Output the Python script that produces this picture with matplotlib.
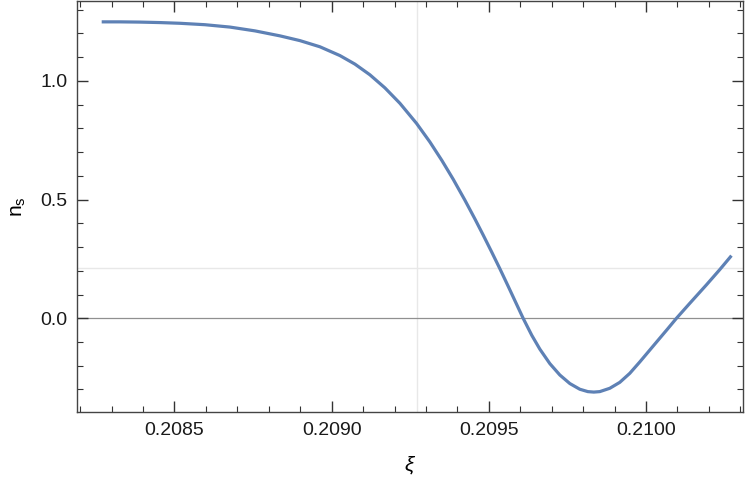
import matplotlib
matplotlib.use("Agg")
import matplotlib.pyplot as plt
import numpy as np
from matplotlib.ticker import MultipleLocator, FormatStrFormatter

plt.rcParams['font.family'] = ['Liberation Sans', 'DejaVu Sans']
plt.rcParams['mathtext.fontset'] = 'custom'
plt.rcParams['mathtext.rm'] = 'Liberation Sans'
plt.rcParams['mathtext.it'] = 'Liberation Sans:italic'

# curve
xi = [0.2082685, 0.2083267, 0.2083903, 0.2084539, 0.2085175, 0.2085970,
      0.2086765, 0.2087560, 0.2088355, 0.2088990, 0.2089626, 0.2090262,
      0.2090740, 0.2091216, 0.2091693, 0.2092170, 0.2092701, 0.2093124,
      0.2093506, 0.2093865, 0.2094237, 0.2094555, 0.2094819, 0.2095095,
      0.2095350, 0.2095604, 0.2095858, 0.2096091, 0.2096367, 0.2096622,
      0.2096940, 0.2097258, 0.2097576, 0.2097893, 0.2098148, 0.2098339,
      0.2098530, 0.2098847, 0.2099165, 0.2099483, 0.2099801, 0.2100119,
      0.2100437, 0.2100692, 0.2100968, 0.2101391, 0.2101922, 0.2102345,
      0.2102717]
n_s = [1.249, 1.249, 1.248, 1.246, 1.243, 1.237,
       1.227, 1.211, 1.190, 1.170, 1.144, 1.107,
       1.071, 1.026, 0.971, 0.906, 0.821, 0.743,
       0.665, 0.586, 0.498, 0.419, 0.351, 0.278,
       0.209, 0.138, 0.066, 0.000, -0.072, -0.130,
       -0.191, -0.239, -0.275, -0.299, -0.309, -0.311,
       -0.309, -0.295, -0.270, -0.232, -0.184, -0.134,
       -0.084, -0.044, 0.000, 0.063, 0.141, 0.205,
       0.264]

grid_x = 0.20927
grid_y = 0.21

fig = plt.figure(figsize=(7.47, 4.88), dpi=100)
ax = fig.add_axes([0.1031, 0.1557, 0.8922, 0.8423])

ax.axvline(grid_x, color='#e8e8e8', lw=1.0, zorder=1)
ax.axhline(grid_y, color='#e8e8e8', lw=1.0, zorder=1)
ax.axhline(0.0, color='#909090', lw=0.9, zorder=1)

ax.plot(xi, n_s, color='#5E81B5', lw=2.3, solid_joinstyle='round',
        solid_capstyle='butt', zorder=3)

ax.set_xlim(0.20819, 0.21031)
ax.set_ylim(-0.395, 1.337)

ax.xaxis.set_major_locator(MultipleLocator(0.0005))
ax.xaxis.set_minor_locator(MultipleLocator(0.0001))
ax.yaxis.set_major_locator(MultipleLocator(0.5))
ax.yaxis.set_minor_locator(MultipleLocator(0.1))
ax.xaxis.set_major_formatter(FormatStrFormatter('%.4f'))
ax.yaxis.set_major_formatter(FormatStrFormatter('%.1f'))

ax.tick_params(which='both', direction='in', top=True, right=True,
               color='#333333', labelsize=14, labelcolor='#1a1a1a')
ax.tick_params(which='major', length=8, width=1.0, pad=7)
ax.tick_params(which='minor', length=4, width=0.8)
for s in ax.spines.values():
    s.set_color('#444444')
    s.set_linewidth(1.0)

ax.set_xlabel(r'$\xi$', fontsize=15, labelpad=11)
ax.set_ylabel(r'$\mathrm{n_s}$', fontsize=15, labelpad=9)

fig.savefig('out.png', dpi=100)
